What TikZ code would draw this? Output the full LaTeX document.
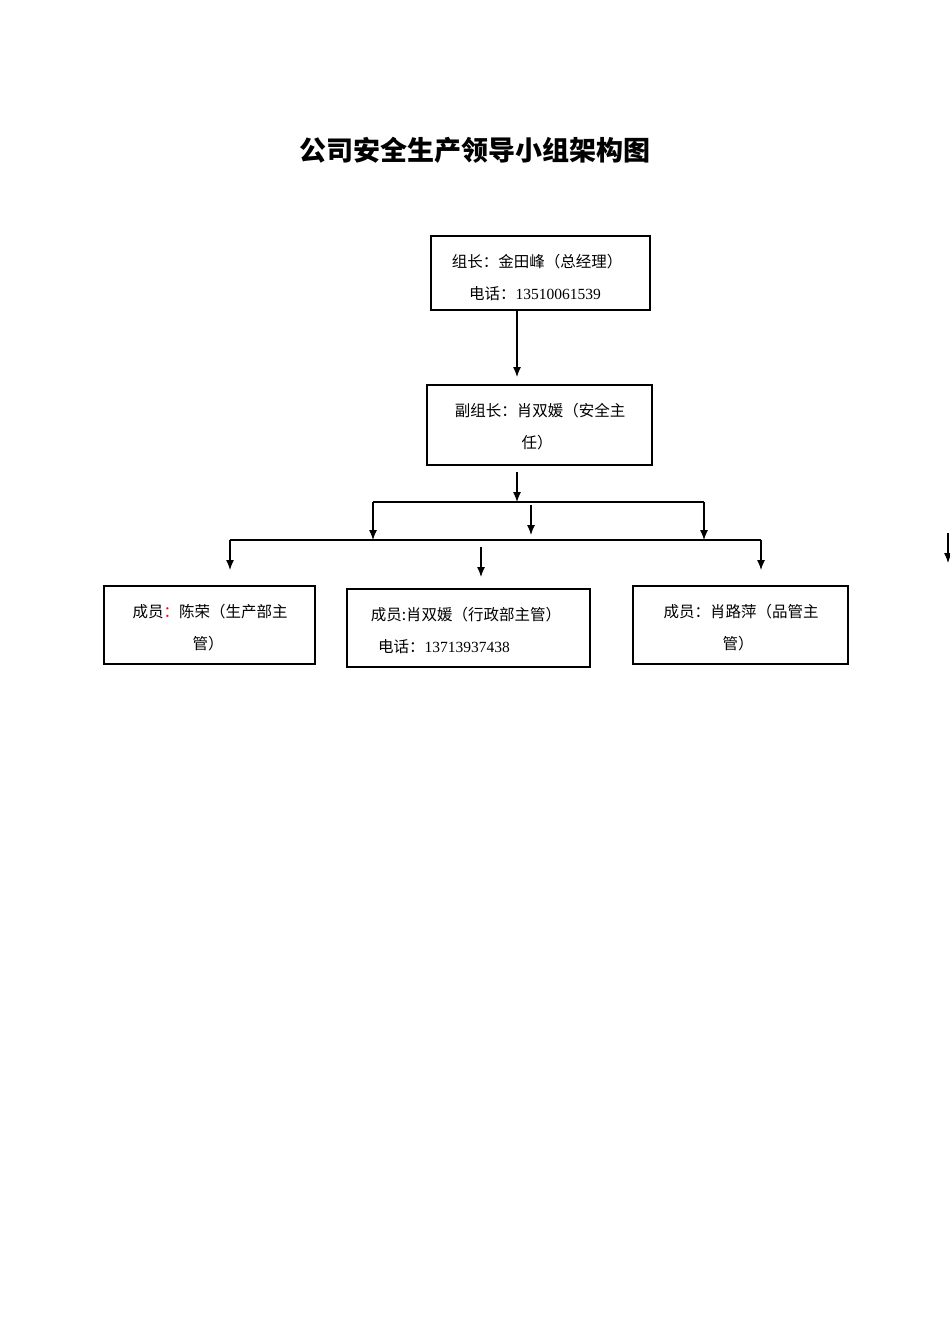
\documentclass[tikz,border=0pt]{standalone}
\usepackage{fontspec}
\newfontfamily\cjk{Noto Sans CJK SC}
\newfontfamily\lat{Liberation Serif}
\usetikzlibrary{arrows.meta}
\begin{document}
\begin{tikzpicture}[x=1pt,y=-1pt,
  box/.style={draw,line width=1.4pt,inner sep=0},
  txt/.style={font=\cjk\fontsize{15.5}{18}\selectfont,inner sep=0},
  arr/.style={-{Latex[length=10pt,width=8pt]},line width=1.2pt},
  ln/.style={line width=1.2pt}]
\useasboundingbox (0,0) rectangle (950,1344);
\node[font=\cjk\bfseries\fontsize{27}{30}\selectfont] (title) at (475,150) {公司安全生产领导小组架构图};
\node[box,minimum width=219,minimum height=74] (a) at (540.5,273) {};
\node[txt] (a1) at (537,262) {组长：金田峰（总经理）};
\node[txt] (a2) at (535,294) {电话：{\lat 13510061539}};
\node[box,minimum width=225,minimum height=80] (b) at (539.5,425) {};
\node[txt] (b1) at (540,411) {副组长：肖双媛（安全主};
\node[txt] (b2) at (537,443) {任）};
\node[box,minimum width=211,minimum height=78] (c1) at (209.5,625) {};
\node[txt] (c11) at (210,612) {成员{\color{red}：}陈荣（生产部主};
\node[txt] (c12) at (208,644) {管）};
\node[box,minimum width=243,minimum height=78] (c2) at (468.5,628) {};
\node[txt] (c21) at (466,615) {成员:肖双媛（行政部主管）};
\node[txt] (c22) at (444,647) {电话：{\lat 13713937438}};
\node[box,minimum width=215,minimum height=78] (c3) at (740.5,625) {};
\node[txt] (c31) at (741,612) {成员：肖路萍（品管主};
\node[txt] (c32) at (738,644) {管）};
\coordinate (p1) at (517,377);
\draw[arr] (a.south -| p1) -- (p1);
\coordinate (q0) at (517,472); \coordinate (q1) at (517,502);
\draw[arr] (q0) -- (q1);
\coordinate (hl) at (373,502); \coordinate (hr) at (704,502);
\draw[ln] (hl) -- (hr);
\coordinate (hl2) at (373,540); \coordinate (hr2) at (704,540);
\draw[arr] (hl) -- (hl2); \draw[arr] (hr) -- (hr2);
\coordinate (m0) at (531,505); \coordinate (m1) at (531,535);
\draw[arr] (m0) -- (m1);
\coordinate (gl) at (230,540); \coordinate (gr) at (761,540);
\draw[ln] (gl) -- (gr);
\coordinate (gl2) at (230,570); \coordinate (gr2) at (761,570);
\draw[arr] (gl) -- (gl2); \draw[arr] (gr) -- (gr2);
\coordinate (n0) at (481,547); \coordinate (n1) at (481,577);
\draw[arr] (n0) -- (n1);
\coordinate (r0) at (948,533); \coordinate (r1) at (948,563);
\draw[arr] (r0) -- (r1);
\end{tikzpicture}
\end{document}
